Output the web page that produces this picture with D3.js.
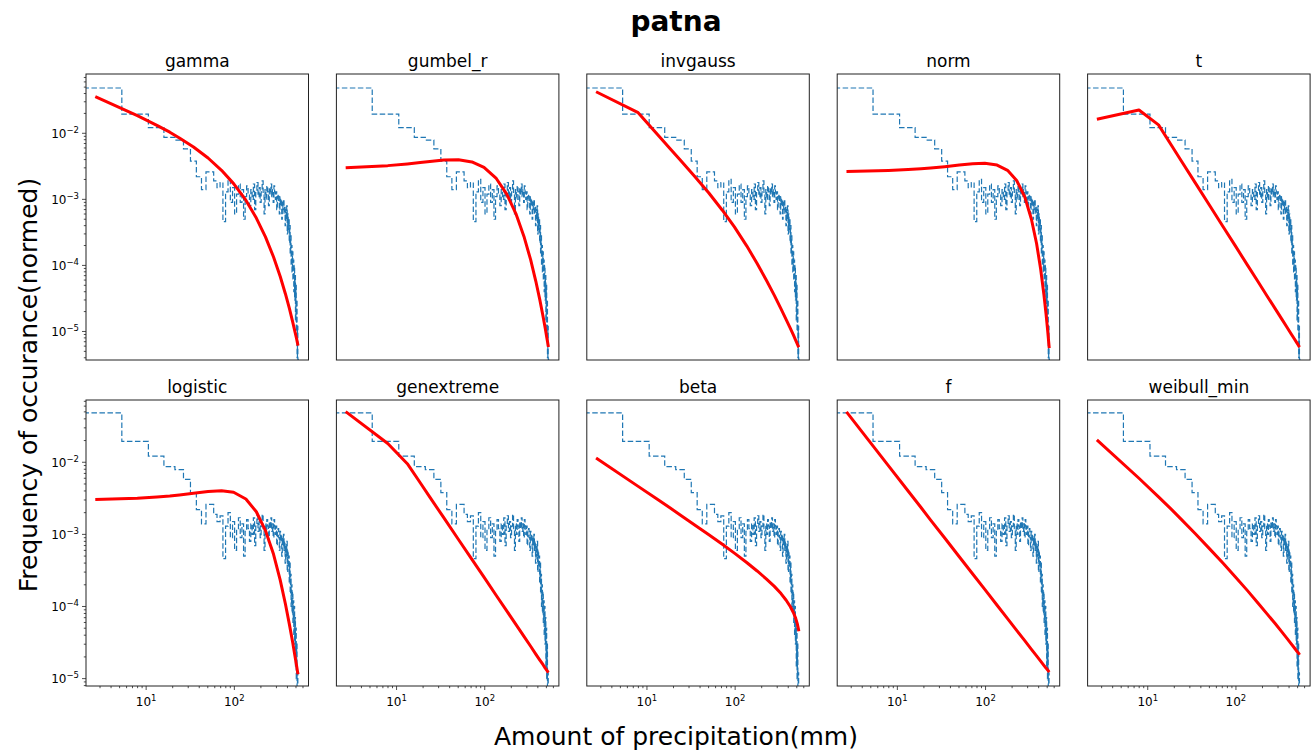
<!DOCTYPE html>
<html><head><meta charset="utf-8">
<script src="https://cdn.jsdelivr.net/npm/d3@7"></script>
<style>
body{margin:0;background:#fff;}
svg{display:block;}
text{font-family:"DejaVu Sans",sans-serif;fill:#000;}
</style>
</head><body>
<svg id="chart" width="1313" height="754"></svg>
<script>
// ---------------- data ----------------
const chartTitle = "patna";
const xAxisLabel = "Amount of precipitation(mm)";
const yAxisLabel = "Frequency of occurance(normed)";
const panelNames = ["gamma","gumbel_r","invgauss","norm","t","logistic","genextreme","beta","f","weibull_min"];

// histogram: 100 bins of equal width starting at 0 mm (density)
const binWidth = 5.3;
const histDensity = [
  0.0485, 0.0195, 0.0122, 0.0087, 0.0079, 0.0058, 0.0038, 0.0022, 0.0014, 0.0026,
  0.0026, 0.0019, 0.0015, 0.0018, 0.00046, 0.0013, 0.0020, 0.0009, 0.0015, 0.0006,
  0.0012, 0.0017, 0.0009, 0.0014, 0.0005, 0.0011, 0.0016, 0.0012, 0.0008, 0.0014,
  0.0010, 0.0017, 0.0007, 0.0013, 0.0018, 0.0011, 0.0015, 0.0009, 0.0013, 0.0019,
  0.0012, 0.0006, 0.0014, 0.0010, 0.0016, 0.0013, 0.0008, 0.0015, 0.0012, 0.0017,
  0.0011, 0.0014, 0.0009, 0.0016, 0.0013, 0.0010, 0.0013, 0.0007, 0.0011, 0.0012,
  0.0009, 0.0006, 0.0011, 0.0008, 0.0010, 0.0005, 0.0009, 0.0007, 0.0010, 0.0006,
  0.0008, 0.0004, 0.0007, 0.0005, 0.0008, 0.0003, 0.0006, 0.00035, 0.0005, 0.00022,
  0.0004, 0.00015, 0.00028, 0.0001, 0.0002, 0.00008, 0.00016, 0.00006, 0.00012, 0.00004,
  0.0001, 0.00003, 0.00007, 0.000015, 0.00005, 0.00001, 0.00003, 0.000004, 0.000012, 0.0000038
];

// fitted pdf curves, sampled at these precipitation amounts (mm)
const curveX = [2.65, 7.95, 13.25, 18.55, 23.85, 34.45, 50.35, 71.55, 98.05, 135.15,
  177.55, 225.25, 278.25, 331.25, 378.95, 421.35, 458.45, 484.95, 506.15, 522.05, 527.35];

const gammaPdf = [3.58e-2, 1.85e-2, 1.32e-2, 1.04e-2, 8.5e-3, 6.2e-3, 4.23e-3, 2.75e-3, 1.73e-3, 9.7e-4,
  5.2e-4, 2.7e-4, 1.34e-4, 6.8e-5, 3.73e-5, 2.21e-5, 1.40e-5, 1.01e-5, 7.9e-6, 6.5e-6, 6.1e-6];
const gumbelPdf = [3.02e-3, 3.24e-3, 3.44e-3, 3.61e-3, 3.74e-3, 3.93e-3, 3.97e-3, 3.69e-3, 3.05e-3, 2.07e-3,
  1.20e-3, 6.1e-4, 2.75e-4, 1.22e-4, 5.8e-5, 3.01e-5, 1.69e-5, 1.12e-5, 8.0e-6, 6.3e-6, 5.8e-6];
const invgaussPdf = [4.26e-2, 2.05e-2, 9.53e-3, 5.75e-3, 3.94e-3, 2.26e-3, 1.25e-3, 6.85e-4, 3.83e-4, 1.98e-4,
  1.07e-4, 6.0e-5, 3.52e-5, 2.20e-5, 1.51e-5, 1.12e-5, 8.8e-6, 7.4e-6, 6.5e-6, 5.9e-6, 5.77e-6];
const normPdf = [2.65e-3, 2.74e-3, 2.82e-3, 2.90e-3, 2.98e-3, 3.12e-3, 3.30e-3, 3.45e-3, 3.51e-3, 3.30e-3,
  2.75e-3, 1.93e-3, 1.09e-3, 5.0e-4, 2.15e-4, 8.8e-5, 3.66e-5, 1.85e-5, 1.03e-5, 6.5e-6, 5.6e-6];
const tPdf = [1.63e-2, 2.25e-2, 1.34e-2, 6.59e-3, 3.87e-3, 1.79e-3, 8.07e-4, 3.85e-4, 1.99e-4, 1.01e-4,
  5.70e-5, 3.45e-5, 2.22e-5, 1.54e-5, 1.16e-5, 9.25e-6, 7.76e-6, 6.89e-6, 6.31e-6, 5.89e-6, 5.78e-6];
const logisticPdf = [3.05e-3, 3.18e-3, 3.30e-3, 3.41e-3, 3.52e-3, 3.72e-3, 3.94e-3, 4.04e-3, 3.84e-3, 3.10e-3,
  2.06e-3, 1.13e-3, 5.3e-4, 2.32e-4, 1.09e-4, 5.6e-5, 3.2e-5, 2.1e-5, 1.55e-5, 1.22e-5, 1.15e-5];
const genextremePdf = [5.04e-2, 1.82e-2, 9.55e-3, 5.20e-3, 3.28e-3, 1.69e-3, 8.49e-4, 4.49e-4, 2.55e-4, 1.42e-4,
  8.69e-5, 5.64e-5, 3.85e-5, 2.81e-5, 2.19e-5, 1.81e-5, 1.56e-5, 1.40e-5, 1.30e-5, 1.23e-5, 1.21e-5];
const betaPdf = [1.15e-2, 4.63e-3, 3.04e-3, 2.30e-3, 1.86e-3, 1.36e-3, 9.9e-4, 7.3e-4, 5.5e-4, 4.07e-4,
  3.11e-4, 2.42e-4, 1.90e-4, 1.51e-4, 1.22e-4, 9.98e-5, 8.2e-5, 6.9e-5, 5.8e-5, 4.86e-5, 4.54e-5];
const fPdf = [4.99e-2, 8.9e-3, 3.99e-3, 2.36e-3, 1.58e-3, 8.9e-4, 4.9e-4, 2.82e-4, 1.73e-4, 1.04e-4,
  6.8e-5, 4.67e-5, 3.36e-5, 2.55e-5, 2.07e-5, 1.75e-5, 1.53e-5, 1.40e-5, 1.32e-5, 1.25e-5, 1.23e-5];
const weibullPdf = [2.04e-2, 6.0e-3, 3.31e-3, 2.22e-3, 1.63e-3, 1.03e-3, 6.3e-4, 3.97e-4, 2.59e-4, 1.66e-4,
  1.12e-4, 7.9e-5, 5.8e-5, 4.44e-5, 3.61e-5, 3.05e-5, 2.68e-5, 2.44e-5, 2.29e-5, 2.18e-5, 2.14e-5];

const xTickValues = [10, 100];
const xTickExponents = ["1", "2"];
const yTickValues = [1e-2, 1e-3, 1e-4, 1e-5];
const yTickExponents = ["\u22122", "\u22123", "\u22124", "\u22125"];
const xDomain = [2.08, 693];
const yDomainTop = [3.7e-6, 0.079];
const yDomainBottom = [7.9e-6, 0.073];

// ---------------- layout ----------------
const svg = d3.select("#chart");
const panelLeft0 = 86, panelStep = 250.4, panelW = 222.5, panelH = 286;
const rowTop = [74, 400];
const histColor = "#1f77b4", fitColor = "#ff0000";

const pdfs = [gammaPdf, gumbelPdf, invgaussPdf, normPdf, tPdf,
              logisticPdf, genextremePdf, betaPdf, fPdf, weibullPdf];

svg.append("text").attr("x", 676).attr("y", 31).attr("text-anchor", "middle")
  .style("font-size", "28px").style("font-weight", "bold").text(chartTitle);
svg.append("text").attr("x", 676).attr("y", 745).attr("text-anchor", "middle")
  .style("font-size", "25px").text(xAxisLabel);
svg.append("text").attr("transform", "translate(37,385) rotate(-90)").attr("text-anchor", "middle")
  .style("font-size", "25px").text(yAxisLabel);

panelNames.forEach((name, idx) => {
  const row = Math.floor(idx / 5), col = idx % 5;
  const left = panelLeft0 + col * panelStep, top = rowTop[row];
  const g = svg.append("g").attr("transform", `translate(${left},${top})`);
  const x = d3.scaleLog().domain(xDomain).range([0, panelW]);
  const y = d3.scaleLog().domain(row === 0 ? yDomainTop : yDomainBottom).range([panelH, 0]);

  const clipId = "clip" + idx;
  g.append("clipPath").attr("id", clipId).append("rect")
    .attr("x", 0).attr("y", 0).attr("width", panelW).attr("height", panelH);
  const plot = g.append("g").attr("clip-path", `url(#${clipId})`);

  // step histogram outline
  const pts = [];
  histDensity.forEach((v, i) => {
    const e0 = Math.max(i * binWidth, xDomain[0] * 0.5);
    const e1 = (i + 1) * binWidth;
    pts.push([x(e0), y(v)], [x(e1), y(v)]);
  });
  pts.push([x(histDensity.length * binWidth), panelH + 20]);
  plot.append("path").attr("d", d3.line()(pts))
    .attr("fill", "none").attr("stroke", histColor).attr("stroke-width", 1.2)
    .attr("stroke-dasharray", "5.5,2.5");

  // fitted curve
  const line = d3.line().x((d, i) => x(curveX[i])).y(d => y(d));
  plot.append("path").attr("d", line(pdfs[idx]))
    .attr("fill", "none").attr("stroke", fitColor).attr("stroke-width", 3)
    .attr("stroke-linejoin", "round").attr("stroke-linecap", "butt");

  // frame
  g.append("rect").attr("x", 0).attr("y", 0).attr("width", panelW).attr("height", panelH)
    .attr("fill", "none").attr("stroke", "#222").attr("stroke-width", 1);

  // title
  g.append("text").attr("x", panelW / 2).attr("y", -7).attr("text-anchor", "middle")
    .style("font-size", "17px").text(name);

  // y ticks (left column)
  if (col === 0) {
    const yt = y.ticks();
    yt.forEach(v => {
      const major = yTickValues.some(t => Math.abs(t - v) / t < 1e-6);
      g.append("line").attr("x1", 0).attr("x2", major ? -4 : -2.2)
        .attr("y1", y(v)).attr("y2", y(v)).attr("stroke", "#222").attr("stroke-width", 0.8);
    });
    yTickValues.forEach((v, i) => {
      const t = g.append("text").attr("x", -7).attr("y", y(v) + 4.5).attr("text-anchor", "end")
        .style("font-size", "12px");
      t.append("tspan").text("10");
      t.append("tspan").attr("dy", -5).style("font-size", "8.5px").text(yTickExponents[i]);
    });
  }
  // x ticks (bottom row)
  if (row === 1) {
    const xt = x.ticks();
    xt.forEach(v => {
      const major = xTickValues.some(t => Math.abs(t - v) / t < 1e-6);
      g.append("line").attr("y1", panelH).attr("y2", panelH + (major ? 4 : 2.2))
        .attr("x1", x(v)).attr("x2", x(v)).attr("stroke", "#222").attr("stroke-width", 0.8);
    });
    xTickValues.forEach((v, i) => {
      const t = g.append("text").attr("x", x(v)).attr("y", panelH + 20).attr("text-anchor", "middle")
        .style("font-size", "12px");
      t.append("tspan").text("10");
      t.append("tspan").attr("dy", -5).style("font-size", "8.5px").text(xTickExponents[i]);
    });
  }
});
</script>
</body></html>
